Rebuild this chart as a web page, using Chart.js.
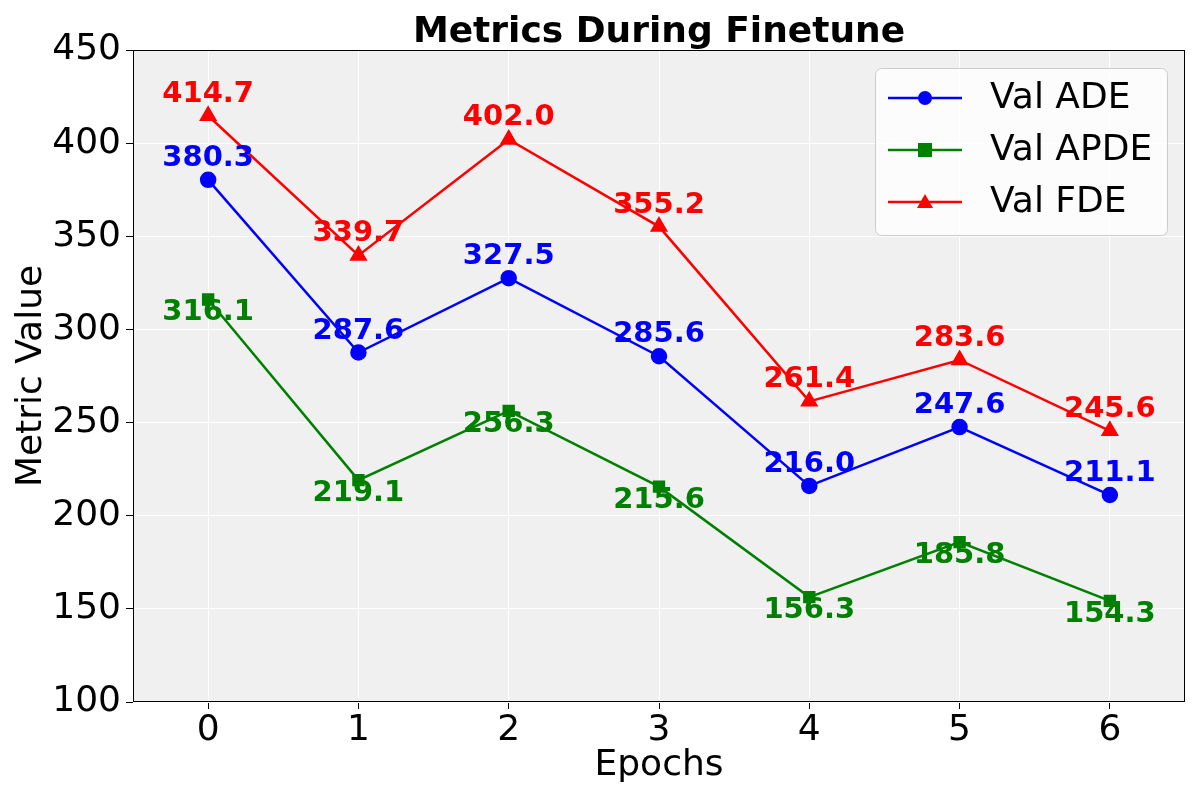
<!DOCTYPE html>
<html>
<head>
<meta charset="utf-8">
<title>Metrics During Finetune</title>
<script src="https://cdn.jsdelivr.net/npm/chart.js@4.4.1/dist/chart.umd.min.js"></script>
<style>
  html, body { margin: 0; padding: 0; background: #fff; }
  #wrap { width: 1200px; height: 800px; position: relative; }
</style>
</head>
<body>
<div id="wrap"><canvas id="metricsChart"></canvas></div>
<script>
// epochs along the x axis
const epochs = ['0', '1', '2', '3', '4', '5', '6'];

// validation metrics per epoch
const valADE = [380.3, 287.6, 327.5, 285.6, 216.0, 247.6, 211.1];
const valAPDE = [316.1, 219.1, 256.3, 215.6, 156.3, 185.8, 154.3];
const valFDE = [414.7, 339.7, 402.0, 355.2, 261.4, 283.6, 245.6];

const yTicks = [100, 150, 200, 250, 300, 350, 400, 450];

const FONT = 'DejaVu Sans';

// plot background + spines like matplotlib
const plotFrame = {
  id: 'plotFrame',
  beforeDraw(chart) {
    const { ctx, chartArea: a } = chart;
    ctx.save();
    ctx.fillStyle = '#f0f0f0';
    ctx.fillRect(a.left, a.top, a.right - a.left, a.bottom - a.top);
    ctx.restore();
  },
  beforeDatasetsDraw(chart) {
    const { ctx, chartArea: a } = chart;
    ctx.save();
    ctx.strokeStyle = '#000';
    ctx.lineWidth = 1;
    ctx.strokeRect(Math.round(a.left) + 0.5, Math.round(a.top) + 0.5,
      Math.round(a.right - a.left) - 1, Math.round(a.bottom - a.top) - 1);
    ctx.restore();
  }
};

// value labels above (or below) each point
const valueLabels = {
  id: 'valueLabels',
  afterDatasetsDraw(chart) {
    const ctx = chart.ctx;
    ctx.save();
    ctx.font = 'bold 29px "' + FONT + '"';
    ctx.textAlign = 'center';
    ctx.textBaseline = 'alphabetic';
    chart.data.datasets.forEach((ds, i) => {
      const meta = chart.getDatasetMeta(i);
      ctx.fillStyle = ds.borderColor;
      meta.data.forEach((pt, j) => {
        const dy = ds.labelBelow ? 21 : -14;
        ctx.fillText(ds.data[j].toFixed(1), pt.x, pt.y + dy);
      });
    });
    ctx.restore();
  }
};

// matplotlib style legend box (line through marker)
const boxLegend = {
  id: 'boxLegend',
  afterDraw(chart) {
    const ctx = chart.ctx;
    const x = 875, y = 68, w = 292, h = 167;
    ctx.save();
    ctx.beginPath();
    ctx.roundRect(x + 0.5, y + 0.5, w, h, 6);
    ctx.fillStyle = 'rgba(255,255,255,0.8)';
    ctx.fill();
    ctx.strokeStyle = '#cccccc';
    ctx.lineWidth = 1;
    ctx.stroke();
    ctx.font = '36px "' + FONT + '"';
    ctx.textBaseline = 'middle';
    chart.data.datasets.forEach((ds, i) => {
      const cy = y + 30 + i * 52;
      ctx.strokeStyle = ds.borderColor;
      ctx.lineWidth = 2.5;
      ctx.beginPath();
      ctx.moveTo(888, cy);
      ctx.lineTo(962, cy);
      ctx.stroke();
      ctx.fillStyle = ds.borderColor;
      const r = 7;
      ctx.beginPath();
      if (ds.pointStyle === 'circle') {
        ctx.arc(925, cy, r, 0, Math.PI * 2);
      } else if (ds.pointStyle === 'rect') {
        ctx.rect(925 - r, cy - r, 2 * r, 2 * r);
      } else {
        ctx.moveTo(925, cy - r - 1);
        ctx.lineTo(925 + r + 1, cy + r - 1);
        ctx.lineTo(925 - r - 1, cy + r - 1);
        ctx.closePath();
      }
      ctx.fill();
      ctx.fillStyle = '#000';
      ctx.fillText(ds.label, 990, cy + 1);
    });
    ctx.restore();
  }
};

function series(label, data, color, marker, below) {
  return {
    label: label,
    data: data,
    borderColor: color,
    backgroundColor: color,
    pointBackgroundColor: color,
    pointBorderColor: color,
    pointStyle: marker,
    pointRadius: marker === 'triangle' ? 8 : 7,
    borderWidth: 2.5,
    tension: 0,
    fill: false,
    labelBelow: below
  };
}

const ctx = document.getElementById('metricsChart').getContext('2d');
new Chart(ctx, {
  type: 'line',
  data: {
    labels: epochs,
    datasets: [
      series('Val ADE', valADE, '#0000ff', 'circle', false),
      series('Val APDE', valAPDE, '#008000', 'rect', true),
      series('Val FDE', valFDE, '#ff0000', 'triangle', false)
    ]
  },
  options: {
    responsive: true,
    maintainAspectRatio: false,
    animation: false,
    devicePixelRatio: 1,
    layout: { padding: { top: 0, right: 15, left: 0, bottom: 0 } },
    plugins: {
      legend: { display: false },
      tooltip: { enabled: false },
      title: {
        display: true,
        fullSize: false,
        text: 'Metrics During Finetune',
        color: '#000',
        font: { family: FONT, size: 36, weight: 'bold', lineHeight: 1.0 },
        padding: { top: 15, bottom: -1 }
      }
    },
    scales: {
      x: {
        type: 'category',
        offset: true,
        grid: { color: '#ffffff', lineWidth: 1, offset: false, tickColor: '#000', tickLength: 7, drawTicks: true },
        border: { display: false },
        ticks: { color: '#000', font: { family: FONT, size: 36 }, padding: 0 },
        title: {
          display: true, text: 'Epochs', color: '#000',
          font: { family: FONT, size: 36 }, padding: { top: 0, bottom: 13 }
        },
        afterFit(s) { s.height = 98; }
      },
      y: {
        min: 100,
        max: 450,
        afterBuildTicks(s) { s.ticks = yTicks.map(v => ({ value: v })); },
        grid: { color: '#ffffff', lineWidth: 1, tickColor: '#000', tickLength: 7, drawTicks: true },
        border: { display: false },
        ticks: { color: '#000', font: { family: FONT, size: 36 }, padding: 5 },
        title: {
          display: true, text: 'Metric Value', color: '#000',
          font: { family: FONT, size: 36 }, padding: { top: 10, bottom: 0 }
        },
        afterFit(s) { s.width = 133; }
      }
    }
  },
  plugins: [plotFrame, valueLabels, boxLegend]
});
</script>
</body>
</html>
